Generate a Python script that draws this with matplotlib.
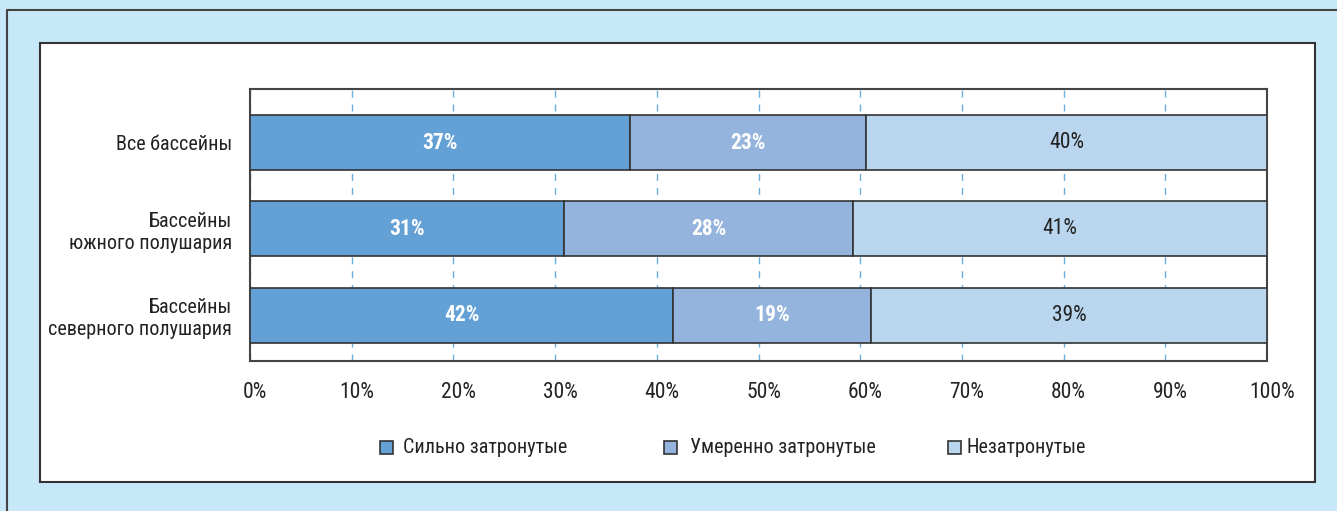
import matplotlib
matplotlib.use("Agg")
import matplotlib.pyplot as plt
from matplotlib.patches import Rectangle
from matplotlib.lines import Line2D
from matplotlib.transforms import ScaledTranslation

plt.rcParams['font.family'] = ['Roboto Condensed', 'DejaVu Sans']

categories = ["Все бассейны", "Бассейны\nюжного полушария", "Бассейны\nсеверного полушария"]
series_names = ["Сильно затронутые", "Умеренно затронутые", "Незатронутые"]
strong = [37.4, 30.9, 41.6]
moderate = [23.2, 28.4, 19.5]
unaffected = [39.4, 40.7, 38.9]
label_strong = ["37%", "31%", "42%"]
label_moderate = ["23%", "28%", "19%"]
label_unaffected = ["40%", "41%", "39%"]
xticks = [0, 10, 20, 30, 40, 50, 60, 70, 80, 90, 100]
xticklabels = ["0%", "10%", "20%", "30%", "40%", "50%", "60%", "70%", "80%", "90%", "100%"]

colors = ["#62a0d6", "#94b4de", "#b9d6ee"]
text_colors = ["white", "white", "#222222"]
weights = ["bold", "bold", "normal"]

W, H = 1337, 511
fig = plt.figure(figsize=(W / 100, H / 100), dpi=100)
fig.patch.set_facecolor("#c7e8f8")

def px(x0, y0, x1, y1):
    return (x0 / W, 1 - y1 / H), (x1 - x0) / W, (y1 - y0) / H

# outer frame: only left and top edges visible
fig.lines.append(Line2D([7 / W, 7 / W, 1.0], [0.0, 1 - 10 / H, 1 - 10 / H],
                        transform=fig.transFigure, color="#444444", lw=1.5, zorder=-2))
xy, w, h = px(40, 43, 1315, 482)
fig.patches.append(Rectangle(xy, w, h, transform=fig.transFigure, facecolor="white",
                             edgecolor="#333333", lw=1.5, zorder=-1))

ax = fig.add_axes([250 / W, 1 - 361 / H, 1017 / W, 272 / H])
ax.set_zorder(2)
ax.set_facecolor("white")

y = list(range(len(categories)))
bh = 0.635
left = [0] * len(categories)
all_labels = [label_strong, label_moderate, label_unaffected]
for i, vals in enumerate([strong, moderate, unaffected]):
    bars = ax.barh(y, vals, left=left, height=bh, color=colors[i], edgecolor="#333333",
                   linewidth=1.2, label=series_names[i], zorder=3)
    for j, b in enumerate(bars):
        ax.text(left[j] + vals[j] / 2, y[j], all_labels[i][j], ha="center", va="center",
                color=text_colors[i], fontsize=15.5, fontweight=weights[i], zorder=4)
    left = [l + v for l, v in zip(left, vals)]

ax.set_xlim(0, 100)
ax.set_ylim(2.53, -0.62)
ax.set_yticks(y)
ax.set_yticklabels(categories, fontsize=14.5, color="#222222")
ax.set_xticks(xticks)
ax.set_xticklabels(xticklabels, fontsize=15.5, color="#222222")
ax.tick_params(axis="both", length=0)
ax.tick_params(axis="x", pad=15)
ax.tick_params(axis="y", pad=13)
shift = ScaledTranslation(5 / 100, 0, fig.dpi_scale_trans)
for lab in ax.get_xticklabels():
    lab.set_transform(lab.get_transform() + shift)
ax.grid(axis="x", color="#6aaee0", linestyle=(0, (5, 5)), linewidth=1, zorder=1)
ax.set_axisbelow(True)
for s in ax.spines.values():
    s.set_color("#444444")
    s.set_linewidth(1.5)

# legend (manual placement)
leg_sq_x = [380, 664, 948]
leg_tx_x = [403, 690, 967]
leg_y = 447
sq = 13
for i in range(3):
    xy, w, h = px(leg_sq_x[i], leg_y - sq / 2, leg_sq_x[i] + sq, leg_y + sq / 2)
    fig.patches.append(Rectangle(xy, w, h, transform=fig.transFigure, facecolor=colors[i],
                                 edgecolor="#333333", lw=1.2, zorder=2))
    fig.text(leg_tx_x[i] / W, 1 - leg_y / H, series_names[i], ha="left", va="center",
             fontsize=14.5, color="#222222")

fig.savefig("out.png", dpi=100, facecolor=fig.get_facecolor())
